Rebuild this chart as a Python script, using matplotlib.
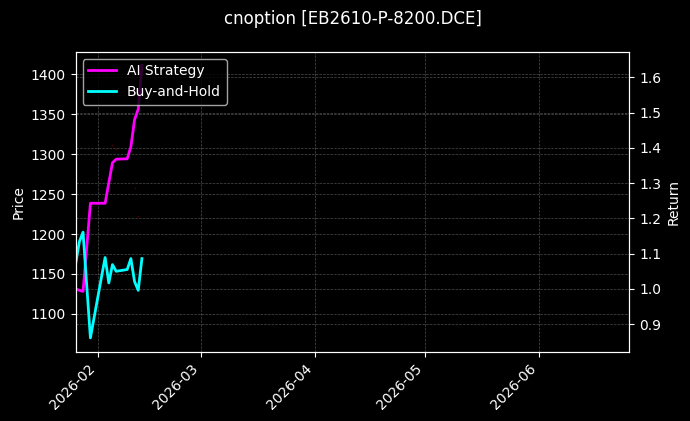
import matplotlib
matplotlib.use("Agg")
import matplotlib.pyplot as plt
import matplotlib.dates as mdates
import pandas as pd

# ---- data ----
dates = ["2026-01-26", "2026-01-27", "2026-01-28", "2026-01-29", "2026-01-30",
         "2026-02-02", "2026-02-03", "2026-02-04", "2026-02-05", "2026-02-06",
         "2026-02-09", "2026-02-10", "2026-02-11", "2026-02-12", "2026-02-13"]
ai_strategy = [1.000, 0.996, 0.993, 1.118, 1.243,
               1.243, 1.243, 1.301, 1.358, 1.368,
               1.369, 1.403, 1.480, 1.510, 1.634]
buy_hold = [1.072, 1.134, 1.161, 1.010, 0.861,
            1.033, 1.089, 1.017, 1.069, 1.050,
            1.055, 1.086, 1.021, 0.996, 1.086]
price_dates = ["2026-02-02", "2026-02-05", "2026-02-06", "2026-02-11", "2026-02-12"]
price_values = [1269, 1312, 1307, 1257, 1223]
title = "cnoption [EB2610-P-8200.DCE]"
x_start, x_end = "2026-01-26", "2026-06-25 12:00"
price_lim = (1053, 1428)

d = pd.to_datetime(dates)
pd_dates = pd.to_datetime(price_dates)

plt.style.use("dark_background")
fig = plt.figure(figsize=(6.9, 4.21), dpi=100)
ax = fig.add_subplot(111)
fig.subplots_adjust(left=0.1097, right=0.912, top=0.877, bottom=0.165)

ax.scatter(pd_dates, price_values, s=1.5, color="#8b0000", alpha=0.6, linewidths=0)
ax.set_ylim(*price_lim)
ax.set_ylabel("Price")
ax.grid(True, linestyle="--", linewidth=0.5, alpha=0.3)

ax2 = ax.twinx()
ax2.plot(d, ai_strategy, color="magenta", linewidth=2, label="AI Strategy")
ax2.plot(d, buy_hold, color="cyan", linewidth=2, label="Buy-and-Hold")
ax2.set_ylabel("Return")
ax2.grid(True, linestyle="--", linewidth=0.5, alpha=0.3)
ax2.legend(loc="upper left")

ax.set_xlim(pd.Timestamp(x_start), pd.Timestamp(x_end))
ax.xaxis.set_major_locator(mdates.MonthLocator())
ax.xaxis.set_major_formatter(mdates.DateFormatter("%Y-%m"))
for lbl in ax.get_xticklabels():
    lbl.set_rotation(45)
    lbl.set_ha("right")

ax.set_title(title, fontsize=12, pad=20)

fig.savefig("out.png", dpi=100)
